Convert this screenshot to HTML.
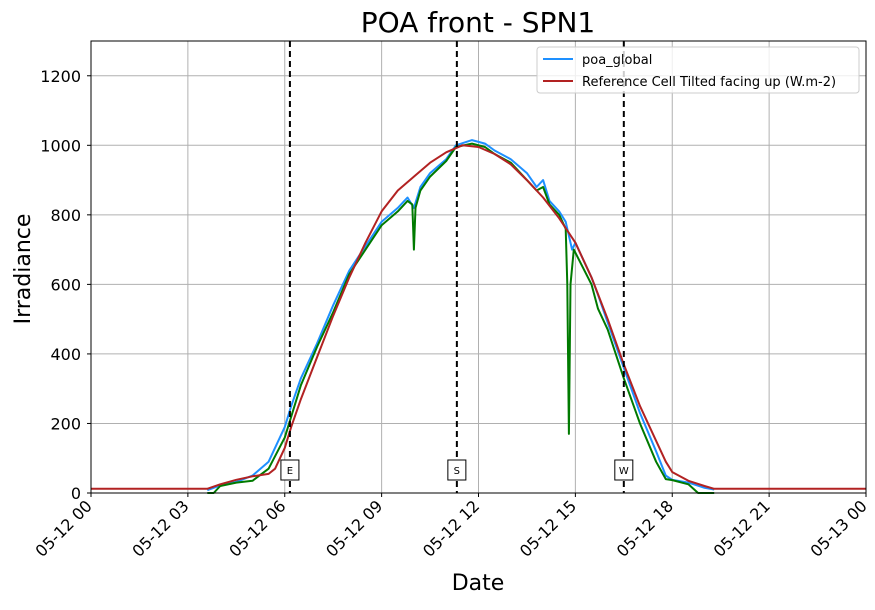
<!DOCTYPE html>
<html><head><meta charset="utf-8"><style>
body{margin:0;background:#fff;}
svg{font-family:"DejaVu Sans","Liberation Sans",sans-serif;}
</style></head><body>
<svg id="chart" width="875" height="605" xmlns="http://www.w3.org/2000/svg">
<text x="478" y="32" font-size="28" text-anchor="middle">POA front - SPN1</text>
<g id="grid"></g>
<g id="series"></g>
<g id="markers"></g>
<rect x="91" y="41" width="775" height="452" fill="none" stroke="#000" stroke-width="1"/>
<g id="axes"></g>
<text x="478" y="590" font-size="22" text-anchor="middle">Date</text>
<text transform="translate(30,269) rotate(-90)" font-size="22" text-anchor="middle">Irradiance</text>
<g>
<rect x="537" y="47" width="322" height="46" fill="#fff" fill-opacity="0.8" stroke="#ccc" rx="3"/>
<line x1="543" y1="59" x2="573" y2="59" stroke="#1e90ff" stroke-width="2"/>
<text x="582" y="64" font-size="13">poa_global</text>
<line x1="543" y1="81" x2="573" y2="81" stroke="#b22222" stroke-width="2"/>
<text x="582" y="86" font-size="13">Reference Cell Tilted facing up (W.m-2)</text>
</g>
</svg>
<script>
const xTickLabels=["05-12 00","05-12 03","05-12 06","05-12 09","05-12 12","05-12 15","05-12 18","05-12 21","05-13 00"];
const yTicks=[0,200,400,600,800,1000,1200];
const markerHours=[6.16,11.33,16.5];
const markerLabels=["E","S","W"];
const redHours=[0,3.6,4,4.5,5,5.5,5.7,6,6.2,6.5,7,7.5,8,8.5,9,9.5,10,10.5,11,11.5,12,12.5,13,13.5,14,14.5,15,15.5,16,16.5,17,17.5,17.8,18,18.5,19,19.3,24];
const redValues=[12,12,25,38,48,55,70,130,190,270,390,510,620,720,810,870,910,950,980,1000,995,975,945,900,850,790,720,620,500,370,250,150,90,60,35,20,12,12];
const blueHours=[3.6,4,4.5,5,5.5,6,6.2,6.5,7,7.5,8,8.5,9,9.5,9.8,10,10.2,10.5,11,11.3,11.8,12.2,12.5,13,13.5,13.8,14,14.2,14.5,14.7,14.9,15,15.5,15.7,16,16.5,17,17.5,17.8,18,18.5,19,19.3];
const blueValues=[8,22,32,50,90,190,250,330,430,540,640,710,780,820,850,820,880,920,960,1000,1015,1005,985,960,920,880,900,840,810,780,700,720,620,570,490,360,230,120,50,38,30,15,10];
const greenHours=[3.6,3.8,4,4.5,5,5.5,6,6.5,7,7.5,8,8.5,9,9.5,9.8,9.95,10,10.05,10.2,10.5,11,11.3,11.8,12.2,12.5,13,13.5,13.8,14,14.2,14.5,14.7,14.75,14.8,14.85,14.95,15.5,15.7,16,16.5,17,17.5,17.8,18,18.5,18.8,19.3];
const greenValues=[0,0,20,30,35,70,160,310,420,520,630,700,770,810,840,830,700,820,870,910,955,995,1005,995,975,950,900,870,880,830,800,760,600,170,600,700,600,530,470,330,200,90,40,37,25,0,0];
const NS="http://www.w3.org/2000/svg";
const X0=91,X1=866,Y0=493,Y1=41,YMAX=1300;
const xs=h=>X0+h/24*(X1-X0);
const ys=v=>Y0-v/YMAX*(Y0-Y1);
function mk(tag,attrs,parent){const e=document.createElementNS(NS,tag);for(const k in attrs)e.setAttribute(k,attrs[k]);parent.appendChild(e);return e;}
const grid=document.getElementById('grid'),axes=document.getElementById('axes'),series=document.getElementById('series'),markers=document.getElementById('markers');
xTickLabels.forEach((lab,i)=>{const x=xs(i*3);
 const g=mk('line',{x1:x,x2:x,y1:Y1,y2:Y0,stroke:'#b0b0b0','stroke-width':1},grid);
 
 
 mk('line',{x1:x,x2:x,y1:Y0,y2:Y0+4,stroke:'#000'},axes);
 const t=mk('text',{x:x+2,y:Y0+14,'font-size':16,'text-anchor':'end',transform:`rotate(-45 ${x+2} ${Y0+14})`},axes);
 t.textContent=lab;
 
 
});
yTicks.forEach(v=>{const y=ys(v);
 const g=mk('line',{x1:X0,x2:X1,y1:y,y2:y,stroke:'#b0b0b0','stroke-width':1},grid);
 
 
 mk('line',{x1:X0-4,x2:X0,y1:y,y2:y,stroke:'#000'},axes);
 const t=mk('text',{x:X0-10,y:y+6,'font-size':16,'text-anchor':'end'},axes);
 t.textContent=v;
 
 
});
function line(hs,vs,color,name){const d=hs.map((h,i)=>(i?'L':'M')+xs(h).toFixed(1)+','+ys(vs[i]).toFixed(1)).join('');
 const p=mk('path',{d:d,fill:'none',stroke:color,'stroke-width':2,'stroke-linejoin':'round'},series);
 
 }
line(blueHours,blueValues,'#1e90ff','poa-global-line');
line(greenHours,greenValues,'#007a00','green-series-line');
line(redHours,redValues,'#b22222','reference-cell-line');
markerHours.forEach((h,i)=>{const x=xs(h);
 const l=mk('line',{x1:x,x2:x,y1:Y1,y2:Y0,stroke:'#000','stroke-width':2,'stroke-dasharray':'6,4'},markers);
 
 
 mk('rect',{x:x-9,y:460,width:18,height:20,fill:'#fff',stroke:'#000'},markers);
 const t=mk('text',{x:x,y:474,'font-size':10,'text-anchor':'middle'},markers);
 t.textContent=markerLabels[i];
 
 
});
</script>
</body></html>
